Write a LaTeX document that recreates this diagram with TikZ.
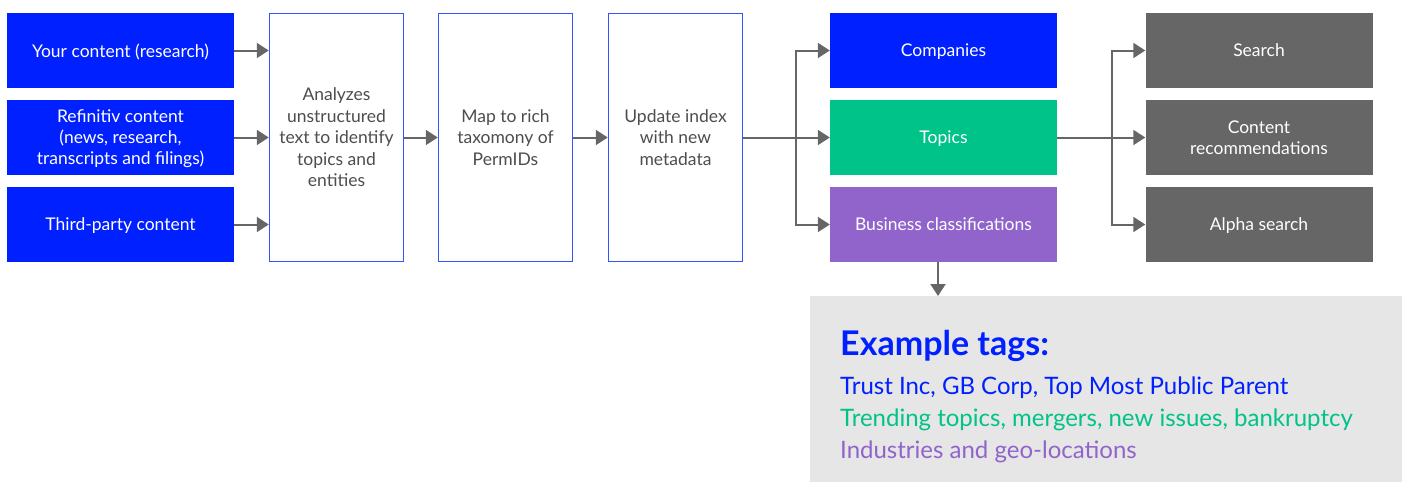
\documentclass[tikz,border=0pt]{standalone}
\usepackage{fontspec}
\setmainfont{Lato}
\usetikzlibrary{arrows.meta,positioning}
\definecolor{rblue}{HTML}{0020FF}
\definecolor{rgreen}{HTML}{00C389}
\definecolor{rpurple}{HTML}{9064CB}
\definecolor{rgrey}{HTML}{666666}
\definecolor{rline}{HTML}{666666}
\definecolor{rtext}{HTML}{4D4D4D}
\definecolor{rpanel}{HTML}{E6E6E6}
\definecolor{rborder}{HTML}{3355FF}
\tikzset{
  fillbox/.style={minimum width=227pt, minimum height=75pt, inner sep=0pt, align=center,
    text=white, text depth=-4pt, font=\fontsize{17.5}{21}\selectfont},
  procbox/.style={draw=rborder, line width=1.5pt, fill=white, minimum width=134pt, minimum height=248pt,
    inner sep=0pt, align=center, text=rtext, text depth=-4pt, font=\fontsize{17.5}{21.5}\selectfont},
  arr/.style={draw=rline, line width=2pt, -{Triangle[length=12pt,width=15pt]}},
  ln/.style={draw=rline, line width=2pt},
  tagline/.style={anchor=base west, inner sep=0pt, font=\fontsize{24}{28}\selectfont}
}
\begin{document}
\begin{tikzpicture}[x=1pt,y=-1pt]
\useasboundingbox (0,0) rectangle (1402,482);
% input boxes
\node[fillbox, fill=rblue] (a1) at (120.5,50.5) {Your content (research)};
\node[fillbox, fill=rblue] (a2) at (120.5,137.5) {Refinitiv content\\(news, research,\\transcripts and filings)};
\node[fillbox, fill=rblue] (a3) at (120.5,224.5) {Third-party content};
% process boxes
\node[procbox] (p1) at (336.5,137.5) {Analyzes\\unstructured\\text to identify\\topics and\\entities};
\node[procbox] (p2) at (505.5,137.5) {Map to rich\\taxomony of\\PermIDs};
\node[procbox] (p3) at (675.5,137.5) {Update index\\with new\\metadata};
% categories
\node[fillbox, fill=rblue] (c1) at (943.5,50.5) {Companies};
\node[fillbox, fill=rgreen] (c2) at (943.5,137.5) {Topics};
\node[fillbox, fill=rpurple] (c3) at (943.5,224.5) {Business classifications};
% outputs
\node[fillbox, fill=rgrey] (o1) at (1259,50.5) {Search};
\node[fillbox, fill=rgrey] (o2) at (1259,137.5) {Content\\recommendations};
\node[fillbox, fill=rgrey] (o3) at (1259,224.5) {Alpha search};
% panel
\node[fill=rpanel, minimum width=592pt, minimum height=186pt, inner sep=0pt, anchor=north west] (ex) at (810,296) {};
\node[tagline, text=rblue, font=\fontsize{34}{38}\selectfont\bfseries] (t0) at (840,355) {Example tags:};
\node[tagline, text=rblue] (t1) at (840,394) {Trust Inc, GB Corp, Top Most Public Parent};
\node[tagline, text=rgreen] (t2) at (840,426) {Trending topics, mergers, new issues, bankruptcy};
\node[tagline, text=rpurple] (t3) at (840,458) {Industries and geo-locations};
% connectors
\draw[arr] (a1.east) -- (a1.east -| p1.west);
\draw[arr] (a2.east) -- (a2.east -| p1.west);
\draw[arr] (a3.east) -- (a3.east -| p1.west);
\draw[arr] (p1.east) -- (p2.west);
\draw[arr] (p2.east) -- (p3.west);
\coordinate (j1) at (796,137.5);
\draw[ln] (p3.east) -- (j1);
\draw[arr] (j1) -- (c2.west);
\draw[arr] (j1) |- (c1.west);
\draw[arr] (j1) |- (c3.west);
\coordinate (j2) at (1112,137.5);
\draw[ln] (c2.east) -- (j2);
\draw[arr] (j2) -- (o2.west);
\draw[arr] (j2) |- (o1.west);
\draw[arr] (j2) |- (o3.west);
\coordinate (d1) at (938,262);
\draw[arr] (d1) -- (d1 |- ex.north);
\end{tikzpicture}
\end{document}
